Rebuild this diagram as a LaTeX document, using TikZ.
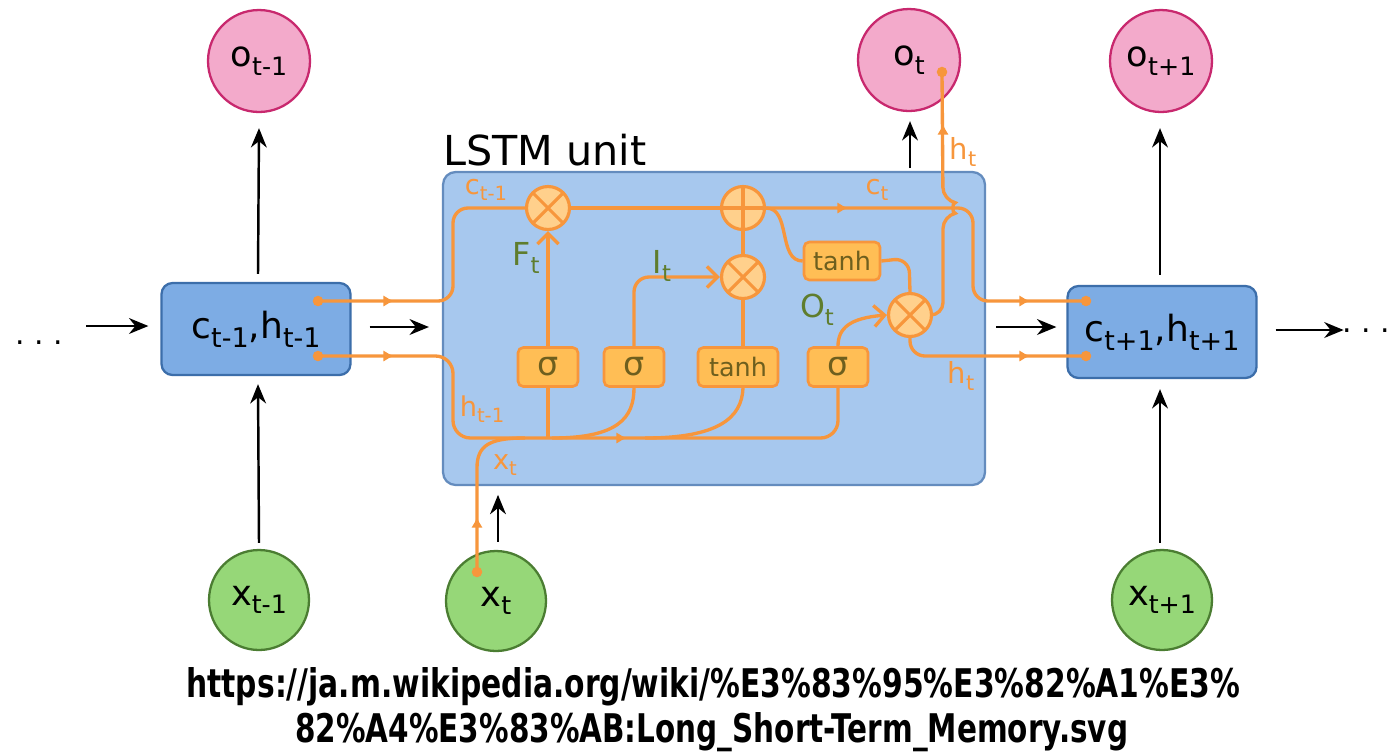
\documentclass[tikz,border=0pt]{standalone}
\usepackage{fontspec}
\setmainfont{DejaVu Sans}
\newfontfamily\urlfont{DejaVu Sans}[BoldFont={DejaVu Sans Bold}]
\usetikzlibrary{arrows.meta,calc}
\definecolor{pinkfill}{RGB}{243,170,203}
\definecolor{pinkline}{RGB}{200,40,110}
\definecolor{greenfill}{RGB}{150,215,120}
\definecolor{greenline}{RGB}{75,125,50}
\definecolor{boxfill}{RGB}{125,172,228}
\definecolor{boxline}{RGB}{60,110,170}
\definecolor{unitfill}{RGB}{167,200,238}
\definecolor{unitline}{RGB}{100,140,190}
\definecolor{orng}{RGB}{247,150,60}
\definecolor{gatefill}{RGB}{255,208,140}
\definecolor{actfill}{RGB}{255,190,85}
\definecolor{acttext}{RGB}{110,95,30}
\definecolor{glab}{RGB}{95,125,45}
\newcommand\lab[3][0.72]{#2\raisebox{-0.45ex}{\scalebox{#1}{#3}}}
\begin{document}
\begin{tikzpicture}[x=0.02cm,y=-0.02cm,
  outc/.style={circle,draw=pinkline,fill=pinkfill,line width=1.3pt,minimum size=2.04cm,inner sep=0pt,font=\fontsize{20}{21}\selectfont},
  inc/.style={circle,draw=greenline,fill=greenfill,line width=1.3pt,minimum size=2.0cm,inner sep=0pt,font=\fontsize{20}{21}\selectfont},
  cellbox/.style={draw=boxline,fill=boxfill,rounded corners=0.22cm,line width=1.3pt,minimum width=3.78cm,minimum height=1.84cm,inner sep=0pt,font=\fontsize{20.5}{22}\selectfont},
  unitbox/.style={draw=unitline,fill=unitfill,rounded corners=0.25cm,line width=1.3pt,minimum width=10.84cm,minimum height=6.26cm,inner sep=0pt},
  gate/.style={circle,draw=orng,fill=gatefill,line width=1.8pt,minimum size=0.86cm,inner sep=0pt},
  gatex/.style={gate,path picture={\draw[orng,line width=1.8pt] (path picture bounding box.south west) -- (path picture bounding box.north east) (path picture bounding box.north west) -- (path picture bounding box.south east);}},
  gatep/.style={gate,path picture={\draw[orng,line width=1.8pt] (path picture bounding box.north) -- (path picture bounding box.south) (path picture bounding box.west) -- (path picture bounding box.east);}},
  act/.style={draw=orng,fill=actfill,rounded corners=3pt,line width=1.5pt,minimum width=1.2cm,minimum height=0.78cm,inner sep=0pt,text=acttext,font=\fontsize{19}{20}\selectfont},
  wire/.style={draw=orng,line width=1.9pt},
  barb/.style={-{Straight Barb[length=6pt,width=12pt]}},
  mk/.style={orng,-{Latex[length=6pt,width=6.5pt]},line width=1pt},
  blk/.style={-{Stealth[length=11pt,width=9pt]},line width=1.4pt},
  olab/.style={text=orng,font=\fontsize{15.5}{16}\selectfont,inner sep=0pt},
  glabel/.style={text=glab,font=\fontsize{18}{19}\selectfont,inner sep=0pt}
]
\fill[white] (0,0) rectangle (1393,752);
\useasboundingbox (0,0) rectangle (1393,752);

% outer nodes
\node[outc] (o1) at (259,61) {\lab{o}{t-1}};
\node[outc] (o2) at (909,60) {\lab{o}{t}};
\node[outc] (o3) at (1161,61) {\lab{o}{t+1}};
\node[inc] (x1) at (259,600) {\lab{x}{t-1}};
\node[inc] (x2) at (496,601) {\lab{x}{t}};
\node[inc] (x3) at (1162,600) {\lab{x}{t+1}};
\node[cellbox] (bl) at (256,329) {\lab[0.75]{c}{t-1},\lab[0.75]{h}{t-1}};
\node[cellbox] (br) at (1162,332) {\lab[0.75]{c}{t+1},\lab[0.75]{h}{t+1}};
\node[unitbox] (unit) at (714,328.5) {};
\node[anchor=west,font=\fontsize{23.5}{24}\selectfont,inner sep=0pt] (title) at (443,150) {LSTM unit};
\node[font=\fontsize{17}{17}\selectfont,inner sep=0pt] (dl) at (39,343) {.\ .\ .};
\node[font=\fontsize{17}{17}\selectfont,inner sep=0pt] (dr) at (1366,331) {.\ .\ .};

% black arrows
\draw[blk] ($(bl.west)+(-74,-3)$) -- ($(bl.west)+(-12,-3)$);
\draw[blk] ($(bl.east)+(18,-2)$) -- ($(unit.west |- bl.east)+(-13,-2)$);
\draw[blk] ($(unit.east |- br.west)+(10,-5)$) -- ($(br.west)+(-10,-5)$);
\draw[blk] ($(br.east)+(18,-2)$) -- ($(br.east)+(86,-2)$);
\draw[blk] ($(bl.north)+(2,-8)$) -- ($(o1.south)+(0,15)$);
\draw[blk] ($(x1.north)+(0,-6)$) -- ($(bl.south)+(2,8)$);
\draw[blk] ($(br.north)+(-2,-10)$) -- ($(o3.south)+(-1,15)$);
\draw[blk] ($(x3.north)+(-2,-6)$) -- ($(br.south)+(-2,10)$);
\draw[blk] ($(x2.north)+(2,-8)$) -- ($(x2.north)+(2,-55)$);
\draw[blk] ($(o2.south)+(1,56)$) -- ($(o2.south)+(1,9)$);

% gates and activations
\node[gatex] (fg) at (548,208) {};
\node[gatep] (add) at (743,208) {};
\node[gatex] (ig) at (743,277) {};
\node[gatex] (og) at (910,315) {};
\node[act] (s1) at (548,367) {σ};
\node[act] (s2) at (634,367) {σ};
\node[act,minimum width=1.6cm,font=\fontsize{14.5}{15}\selectfont] (tb) at (738,367) {tanh};
\node[act] (s3) at (838,367) {σ};
\node[act,minimum width=1.52cm,minimum height=0.76cm,font=\fontsize{14.5}{15}\selectfont] (th) at (842,261) {tanh};

% wire end points
\coordinate (blc) at (318,301);
\coordinate (blh) at (318,356);
\coordinate (brc) at (1086,301);
\coordinate (brh) at (1086,356);
\coordinate (xd) at (477,572);
\coordinate (od) at (942,72);

% orange wires
\draw[wire,rounded corners=0.3cm] (blc) -- (453,301) -- (453,208) -- (fg.west);
\draw[wire,rounded corners=0.35cm] (blh) -- (453,356) -- (453,438) -- (838,438) -- (s3.south);
\draw[wire] (xd) -- (477,468) .. controls (477,445) and (490,438) .. (525,438);
\draw[wire] (s1.south |- 438,438) -- (s1.south);
\draw[wire] (552,438) .. controls (618,438) and (634,418) .. (s2.south);
\draw[wire] (645,438) .. controls (718,438) and (742,418) .. (tb.south -| ig.south);
\draw[wire,barb] (s1.north) -- (fg.south);
\draw[wire,barb,rounded corners=0.3cm] (s2.north) -- (634,277) -- (ig.west);
\draw[wire] (tb.north -| ig.south) -- (ig.south);
\draw[wire] (ig.north) -- (add.south);
\draw[wire] (fg.east) -- (add.west);
\draw[wire,rounded corners=0.3cm] (add.east) -- (973,208) -- (973,301) -- (brc);
\draw[wire] (add.east) to[out=0,in=180] (th.west);
\draw[wire,rounded corners=0.3cm] (th.east) -- (909,258) -- (og.north);
\draw[wire,barb] (s3.north) .. controls (838,328) and (850,318) .. (og.west);
\draw[wire,rounded corners=0.25cm] (og.east) -- (943,315) -- (943,216) .. controls (952,214) and (952,202) .. (943,200) -- (od);
\draw[wire,rounded corners=0.3cm] (og.south) -- (910,356) -- (brh);

% wire markers
\draw[mk] (384,301) -- (394,301);
\draw[mk] (384,356) -- (394,356);
\draw[mk] (1020,301) -- (1030,301);
\draw[mk] (1020,356) -- (1030,356);
\draw[mk] (838,208) -- (848,208);
\draw[mk] (617,438) -- (627,438);
\draw[mk] (943,134) -- (943,124);
\draw[mk] (477,527) -- (477,517);

% dots
\foreach \p in {blc,blh,brc,brh,xd,od} \fill[orng] (\p) circle (3pt);

% labels
\node[olab] (lc1) at (486,190) {\lab{c}{t-1}};
\node[olab] (lh1) at (482,409) {\lab{h}{t-1}};
\node[olab] (lx) at (505,465) {\lab{x}{t}};
\node[olab] (lc) at (877,190) {\lab{c}{t}};
\node[olab,font=\fontsize{16.5}{17}\selectfont] (lht) at (963,152) {\lab{h}{t}};
\node[olab,font=\fontsize{16.5}{17}\selectfont] (lhb) at (961,376) {\lab{h}{t}};
\node[glabel] (lf) at (526,258) {\lab{F}{t}};
\node[glabel] (li) at (662,266) {\lab{I}{t}};
\node[glabel] (lo) at (817,310) {\lab{O}{t}};

% url
\node[anchor=base west,inner sep=0pt] (u1) at (186,697) {\resizebox{21.08cm}{0.6cm}{\urlfont\bfseries https://ja.m.wikipedia.org/wiki/\%E3\%83\%95\%E3\%82\%A1\%E3\%}};
\node[anchor=base west,inner sep=0pt] (u2) at (295,742) {\resizebox{16.66cm}{0.6cm}{\urlfont\bfseries 82\%A4\%E3\%83\%AB:Long\_Short-Term\_Memory.svg}};
\end{tikzpicture}
\end{document}
